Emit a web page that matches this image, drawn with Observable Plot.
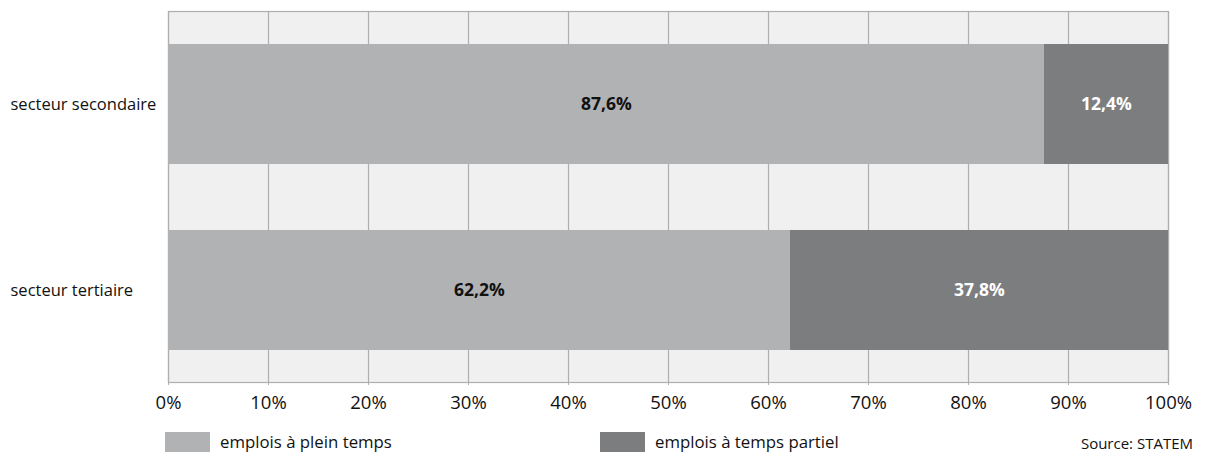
<!DOCTYPE html>
<html>
<head>
<meta charset="utf-8">
<script src="https://cdn.jsdelivr.net/npm/d3@7"></script>
<script src="https://cdn.jsdelivr.net/npm/@observablehq/plot@0.6"></script>
<style>
  html, body { margin: 0; padding: 0; background: #fff; }
  #wrap { position: relative; width: 1211px; height: 455px; font-family: "Open Sans", sans-serif; color: #111; }
  .sw { position: absolute; width: 45px; height: 20px; top: 432px; }
  .lt { position: absolute; top: 430px; font-size: 16.8px; line-height: 24px; white-space: nowrap; }
  #src { position: absolute; right: 18px; top: 432px; font-size: 15px; line-height: 22px; white-space: nowrap; }
</style>
</head>
<body>
<div id="wrap">
  <div id="chart"></div>
  <div class="sw" id="sw0" style="left:165px"></div>
  <div class="lt" id="lt0" style="left:220px"></div>
  <div class="sw" id="sw1" style="left:600px"></div>
  <div class="lt" id="lt1" style="left:655px"></div>
  <div id="src"></div>
</div>
<script>
const sectors = ["secteur secondaire", "secteur tertiaire"];
const types = ["emplois à plein temps", "emplois à temps partiel"];
const pleinTemps = [87.6, 62.2];
const tempsPartiel = [12.4, 37.8];
const xTicks = [0, 10, 20, 30, 40, 50, 60, 70, 80, 90, 100];
const colors = ["#b1b2b4", "#7c7d7f"];
const source = "Source: STATEM";

const data = sectors.flatMap((s, i) => [
  {sector: s, type: types[0], value: pleinTemps[i]},
  {sector: s, type: types[1], value: tempsPartiel[i]}
]);
const fmt = v => v.toFixed(1).replace(".", ",") + "%";

const chart = Plot.plot({
  width: 1211,
  height: 420,
  marginTop: 11,
  marginBottom: 38,
  marginLeft: 168,
  marginRight: 43,
  style: {fontFamily: "'Open Sans', sans-serif", color: "#111", background: "transparent"},
  x: {domain: [0, 100]},
  y: {domain: sectors, paddingInner: 0.357, paddingOuter: 0.173},
  color: {domain: types, range: colors},
  marks: [
    Plot.frame({fill: "#eff0ef", stroke: "#aeaeae", strokeWidth: 1.2}),
    Plot.gridX(xTicks, {stroke: "#aeaeae", strokeOpacity: 1, strokeWidth: 1.2}),
    Plot.barX(data, Plot.stackX({x: "value", y: "sector", fill: "type", order: types})),
    Plot.text(data, Plot.stackX({x: "value", y: "sector", z: "type", order: types,
      text: d => d.type === types[0] ? fmt(d.value) : null,
      fill: "#111", fontWeight: "bold", fontSize: 17.5})),
    Plot.text(data, Plot.stackX({x: "value", y: "sector", z: "type", order: types,
      text: d => d.type === types[1] ? fmt(d.value) : null,
      fill: "#fff", fontWeight: "bold", fontSize: 17.5})),
    Plot.axisX({ticks: xTicks, tickFormat: d => d + "%", tickSize: 3, tickPadding: 10,
      stroke: "#aeaeae", fill: "#111", fontSize: 18.5, label: null}),
    Plot.axisY({tickSize: 0, tickPadding: 158, textAnchor: "start", fontSize: 16.5,
      fill: "#111", label: null})
  ]
});
document.getElementById("chart").appendChild(chart);
document.getElementById("sw0").style.background = colors[0];
document.getElementById("sw1").style.background = colors[1];
document.getElementById("lt0").textContent = types[0];
document.getElementById("lt1").textContent = types[1];
document.getElementById("src").textContent = source;
</script>
</body>
</html>
